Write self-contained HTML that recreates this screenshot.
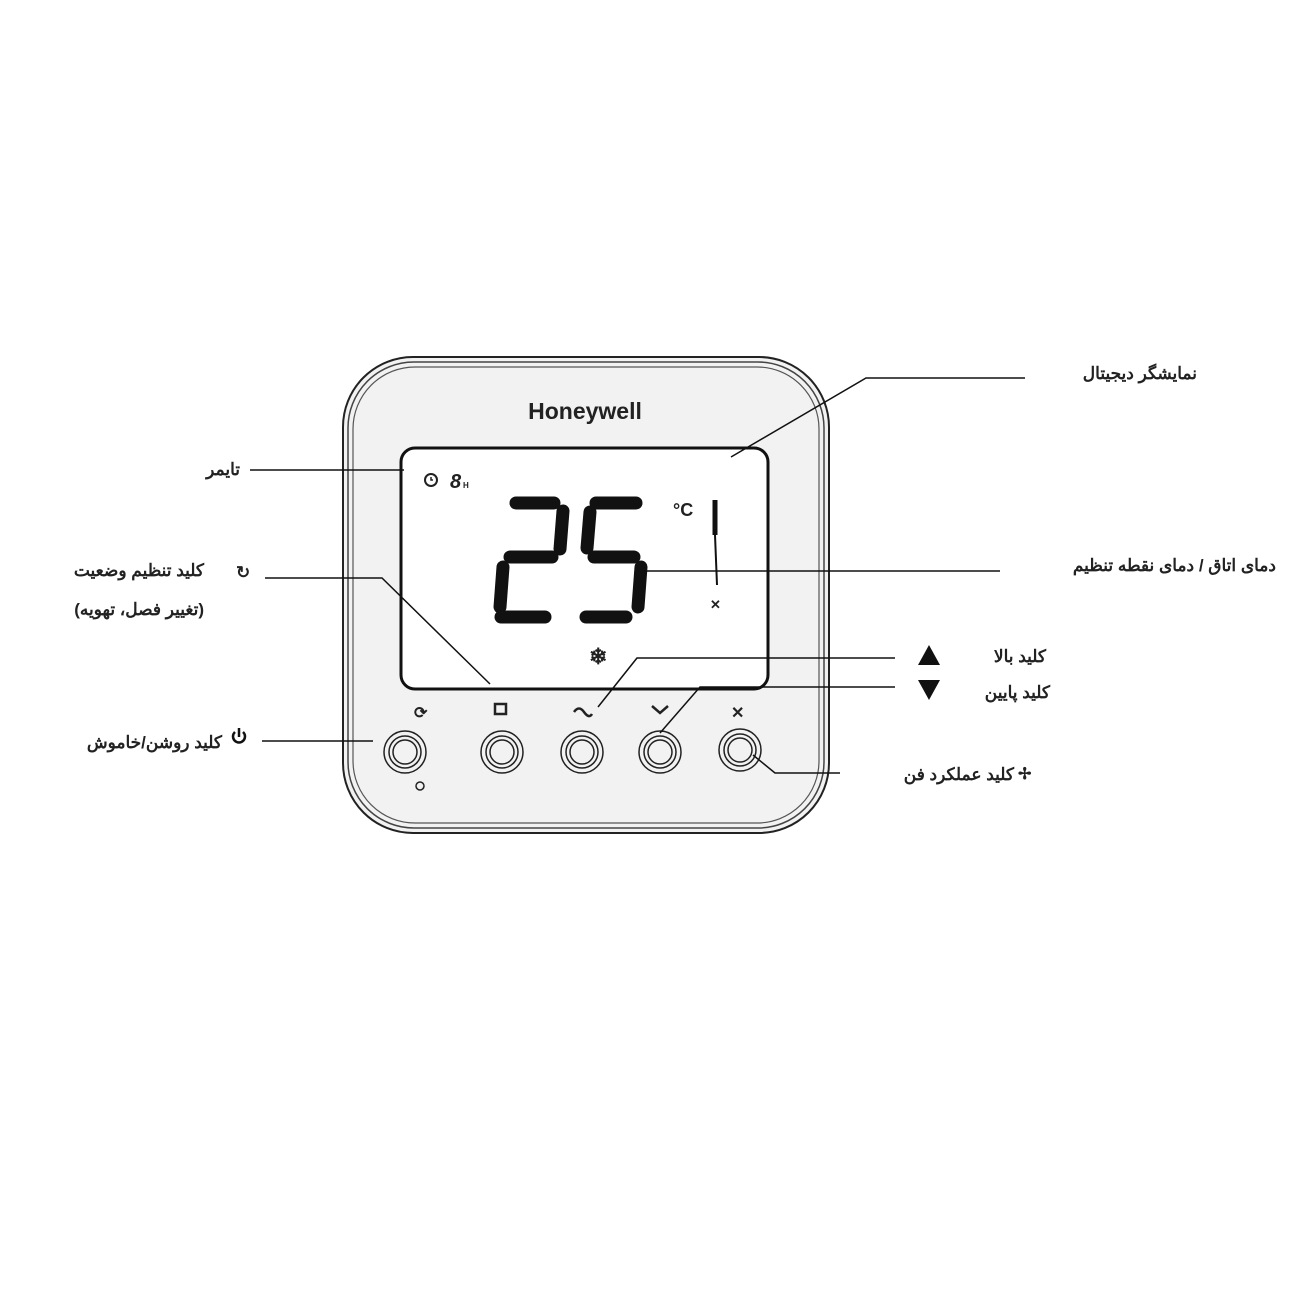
<!DOCTYPE html>
<html><head><meta charset="utf-8"><style>
body{margin:0;background:#fff;}
svg{display:block}
text{font-family:"Liberation Sans","Noto Sans CJK SC",sans-serif;fill:#222;font-weight:bold}
</style></head><body>
<svg width="1300" height="1300" viewBox="0 0 1300 1300">
<rect x="343" y="357" width="486" height="476" rx="70" fill="#f2f2f2" stroke="#222" stroke-width="2"/>
<rect x="348" y="362" width="476" height="466" rx="66" fill="none" stroke="#444" stroke-width="1.5"/>
<rect x="353" y="367" width="466" height="456" rx="62" fill="none" stroke="#555" stroke-width="1.2"/>
<text x="585" y="419" font-size="23" text-anchor="middle" font-weight="bold" fill="#333">Honeywell</text>
<rect x="401" y="448" width="367" height="241" rx="14" fill="#fff" stroke="#111" stroke-width="3"/>
<circle cx="431" cy="480" r="6" fill="none" stroke="#222" stroke-width="2"/>
<path d="M431 477v3h2" stroke="#222" stroke-width="1.5" fill="none"/>
<text x="450" y="488" font-size="20" font-style="italic" font-weight="normal">8</text>
<text x="463" y="488" font-size="8" font-weight="normal">H</text>
<g stroke="#111" stroke-width="13" stroke-linecap="round" fill="none">
<path d="M516 503h38"/><path d="M563 511l-3 38"/><path d="M510 557h42"/><path d="M503 567l-3 40"/><path d="M501 617h44"/>
<path d="M596 503h40"/><path d="M590 512l-3 36"/><path d="M594 557h40"/><path d="M641 567l-3 40"/><path d="M586 617h40"/>
</g>
<text x="673" y="516" font-size="18">°C</text>
<path d="M715 500v35" stroke="#111" stroke-width="5"/><path d="M715 535l2 50" stroke="#111" stroke-width="2"/>
<text x="710" y="609" font-size="13">✕</text>
<text x="589" y="664" font-size="22" font-weight="normal">❄</text>
<text x="414" y="718" font-size="16">⟳</text>
<rect x="495" y="704" width="11" height="10" fill="none" stroke="#222" stroke-width="2.5"/>
<path d="M574 712q5-7 10 0t8 2" stroke="#222" stroke-width="2.5" fill="none"/>
<path d="M652 706l8 7l8-7" stroke="#222" stroke-width="2.5" fill="none"/>
<text x="731" y="718" font-size="16">✕</text>
<g fill="none" stroke="#222" stroke-width="1.5">
<circle cx="405" cy="752" r="21"/><circle cx="405" cy="752" r="16"/><circle cx="405" cy="752" r="12"/>
<circle cx="502" cy="752" r="21"/><circle cx="502" cy="752" r="16"/><circle cx="502" cy="752" r="12"/>
<circle cx="582" cy="752" r="21"/><circle cx="582" cy="752" r="16"/><circle cx="582" cy="752" r="12"/>
<circle cx="660" cy="752" r="21"/><circle cx="660" cy="752" r="16"/><circle cx="660" cy="752" r="12"/>
<circle cx="740" cy="750" r="21"/><circle cx="740" cy="750" r="16"/><circle cx="740" cy="750" r="12"/>
<circle cx="420" cy="786" r="4"/>
</g>
<g stroke="#111" stroke-width="1.5" fill="none">
<path d="M250 470H404"/>
<path d="M265 578H382L490 684"/>
<path d="M262 741H373"/>
<path d="M1025 378H866L731 457"/>
<path d="M643 571H1000"/>
<path d="M895 658H637L598 707"/>
<path d="M895 687H700L660 733"/>
<path d="M840 773H775L753 755"/>
</g>
<g font-size="17">
<text x="1197" y="379" text-anchor="end">نمایشگر دیجیتال</text>
<text x="240" y="475" text-anchor="end">تایمر</text>
<text x="204" y="576" text-anchor="end">کلید تنظیم وضعیت</text>
<text x="236" y="578">↻</text>
<text x="204" y="615" text-anchor="end">(تغییر فصل، تهویه)</text>
<text x="1276" y="571" text-anchor="end">دمای اتاق / دمای نقطه تنظیم</text>
<text x="1046" y="662" text-anchor="end">کلید بالا</text>
<text x="1050" y="698" text-anchor="end">کلید پایین</text>
<text x="222" y="748" text-anchor="end">کلید روشن/خاموش</text>
<text x="1014" y="780" text-anchor="end">کلید عملکرد فن</text>
</g>
<path d="M918 665l11-20l11 20z" fill="#111"/>
<path d="M918 680l11 20l11-20z" fill="#111"/>
<path d="M235 732a6 6 0 1 0 8 0" fill="none" stroke="#111" stroke-width="2.5"/><path d="M239 728v9" stroke="#111" stroke-width="2.5"/>
<text x="1018" y="779" font-size="16">✢</text>
</svg>
</body></html>
